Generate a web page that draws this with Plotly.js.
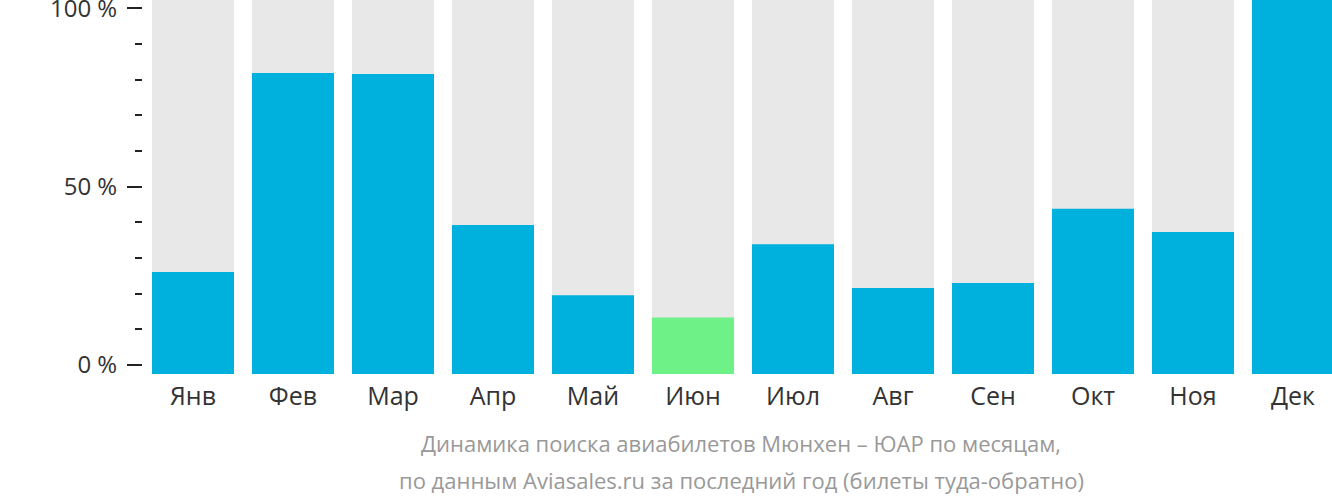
<!DOCTYPE html>
<html><head><meta charset="utf-8">
<script src="https://cdn.plot.ly/plotly-3.0.1.min.js"></script>
<style>html,body{margin:0;padding:0;background:#fff;}#chart{width:1332px;height:502px;}</style>
</head><body><div id="chart"></div>
<script>
const months = ["Янв","Фев","Мар","Апр","Май","Июн","Июл","Авг","Сен","Окт","Ноя","Дек"];
const values = [26.1, 81.9, 81.6, 39.3, 19.6, 13.3, 33.9, 21.6, 23.0, 43.8, 37.3, 102.4];
const highlightMonth = "Июн";
const tickVals = [0, 50, 100];
const tickText = ["0 %", "50 %", "100 %"];
const titleLines = ["Динамика поиска авиабилетов Мюнхен – ЮАР по месяцам,", "по данным Aviasales.ru за последний год (билеты туда-обратно)"];

const BASE = -2.52, TOP = 102.38;
const blue = "#00b1dd", green = "#6ef288", grey = "#e8e8e8";

const bg = {
  type: "bar", x: months, y: months.map(() => TOP - BASE), base: BASE,
  marker: {color: grey}, hoverinfo: "skip", showlegend: false
};
const fg = {
  type: "bar", x: months, y: values.map(v => v - BASE), base: BASE,
  marker: {color: months.map(m => m === highlightMonth ? green : blue)},
  showlegend: false
};

const layout = {
  width: 1332, height: 502,
  margin: {l: 143, r: 0, t: 0, b: 128},
  paper_bgcolor: "#fff", plot_bgcolor: "#fff",
  barmode: "overlay", bargap: 0.18,
  font: {family: "Open Sans", color: "#333"},
  xaxis: {
    range: [-0.5, 11.39], showgrid: false, zeroline: false, showline: false,
    ticks: "", tickfont: {size: 25, color: "#333"}, ticklabelstandoff: 5, fixedrange: true
  },
  yaxis: {
    range: [BASE, TOP], showgrid: false, zeroline: false, showline: false,
    tickvals: tickVals, ticktext: tickText, ticks: "outside", ticklen: 15, tickwidth: 2, tickcolor: "#222",
    tickfont: {size: 24, color: "#333"}, ticklabelstandoff: 5, ticklabeloverflow: "allow",
    minor: {dtick: 10, tick0: 0, ticks: "outside", ticklen: 7, tickwidth: 2, tickcolor: "#222", showgrid: false}
  },
  annotations: [
    {xref: "paper", yref: "paper", x: 0.503, y: 0, yshift: -69, text: titleLines[0], showarrow: false,
     font: {size: 22, color: "#999", family: "Open Sans"}, xanchor: "center", yanchor: "middle"},
    {xref: "paper", yref: "paper", x: 0.503, y: 0, yshift: -106, text: titleLines[1], showarrow: false,
     font: {size: 22, color: "#999", family: "Open Sans"}, xanchor: "center", yanchor: "middle"}
  ]
};
Plotly.newPlot("chart", [bg, fg], layout, {displayModeBar: false, staticPlot: true});
</script></body></html>
